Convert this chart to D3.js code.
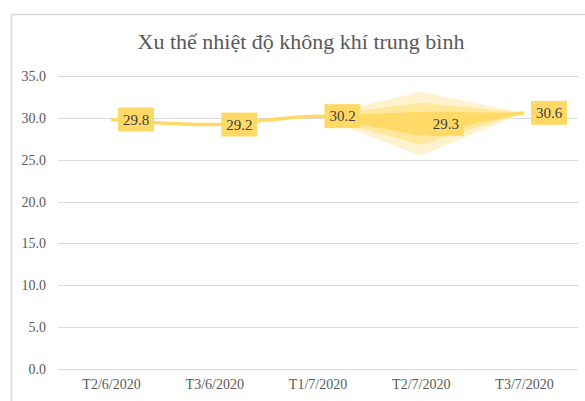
<!DOCTYPE html>
<html lang="vi">
<head>
<meta charset="utf-8">
<script src="https://d3js.org/d3.v7.min.js"></script>
<style>
  body { margin: 0; background: #fff; }
  svg { display: block; }
  svg text { font-family: "Liberation Serif", "Times New Roman", "DejaVu Serif", serif; }
</style>
</head>
<body>
<script>
// data
var categories = ["T2/6/2020", "T3/6/2020", "T1/7/2020", "T2/7/2020", "T3/7/2020"];
var temps = [29.8, 29.2, 30.2, 29.3, 30.6];
var yTicks = [0, 5, 10, 15, 20, 25, 30, 35];

var W = 585, H = 401;

var svg = d3.select("body").append("svg")
    .attr("width", W)
    .attr("height", H);

// chart frame
svg.append("rect")
    .attr("x", 11.5).attr("y", 14.5)
    .attr("width", 620).attr("height", 420)
    .attr("fill", "#fff")
    .attr("stroke", "#d9d9d9")
    .attr("stroke-width", 1.5);

svg.append("text")
    .attr("x", 301).attr("y", 49)
    .attr("text-anchor", "middle")
    .attr("font-size", 22)
    .attr("fill", "#595959")
    .text("Xu thế nhiệt độ không khí trung bình");

var x = d3.scalePoint()
    .domain(categories)
    .range([111, 524]);

var y = d3.scaleLinear()
    .domain([0, 35])
    .range([369, 76]);

// gridlines
svg.append("g")
    .selectAll("line")
    .data(yTicks)
    .join("line")
    .attr("x1", 58).attr("x2", 578)
    .attr("y1", function (d) { return Math.round(y(d)) + 0.5; })
    .attr("y2", function (d) { return Math.round(y(d)) + 0.5; })
    .attr("stroke", "#d9d9d9")
    .attr("stroke-width", 1);

// y axis labels
var yAxis = svg.append("g")
    .attr("transform", "translate(46,0)")
    .call(d3.axisLeft(y).tickValues(yTicks).tickSize(0).tickPadding(0)
        .tickFormat(d3.format(".1f")));
yAxis.attr("font-family", null);
yAxis.select(".domain").remove();
yAxis.selectAll("text")
    .attr("font-size", 14)
    .attr("fill", "#595959");

// x axis labels
var xAxis = svg.append("g")
    .attr("transform", "translate(0,379)")
    .call(d3.axisBottom(x).tickSize(0).tickPadding(0));
xAxis.attr("font-family", null);
xAxis.select(".domain").remove();
xAxis.selectAll("text")
    .attr("dy", "0.71em")
    .attr("font-size", 14)
    .attr("fill", "#595959");

// glow artefact around the last two segments
var glow = [
    { w: 32, color: "#fff2cc" },
    { w: 21, color: "#ffe699" },
    { w: 12, color: "#ffd966" }
];
var i2 = 2, i3 = 3, i4 = 4;
svg.append("g")
    .selectAll("path")
    .data(glow)
    .join("path")
    .attr("d", function (g) {
        var p = [
            [x(categories[i2]), y(temps[i2])],
            [x(categories[i3]), y(temps[i3]) - g.w],
            [x(categories[i4]), y(temps[i4])],
            [x(categories[i3]), y(temps[i3]) + g.w]
        ];
        return "M" + p.join("L") + "Z";
    })
    .attr("fill", function (g) { return g.color; })
    .attr("opacity", 0.95);

// smoothed line
var line = d3.line()
    .x(function (d, i) { return x(categories[i]); })
    .y(function (d) { return y(d); })
    .curve(d3.curveCatmullRom.alpha(0.5));

svg.append("path")
    .datum(temps)
    .attr("d", line)
    .attr("fill", "none")
    .attr("stroke", "#ffd966")
    .attr("stroke-width", 3.5);

// data labels
var lab = svg.append("g")
    .selectAll("g")
    .data(temps)
    .join("g")
    .attr("transform", function (d, i) {
        return "translate(" + (x(categories[i]) + 25) + "," + y(d) + ")";
    });

lab.append("rect")
    .attr("x", -18).attr("y", -12)
    .attr("width", 36).attr("height", 24)
    .attr("fill", "#ffd966");

lab.append("text")
    .attr("text-anchor", "middle")
    .attr("dy", "0.35em")
    .attr("font-size", 15)
    .attr("fill", "#404040")
    .text(function (d) { return d3.format(".1f")(d); });
</script>
</body>
</html>
